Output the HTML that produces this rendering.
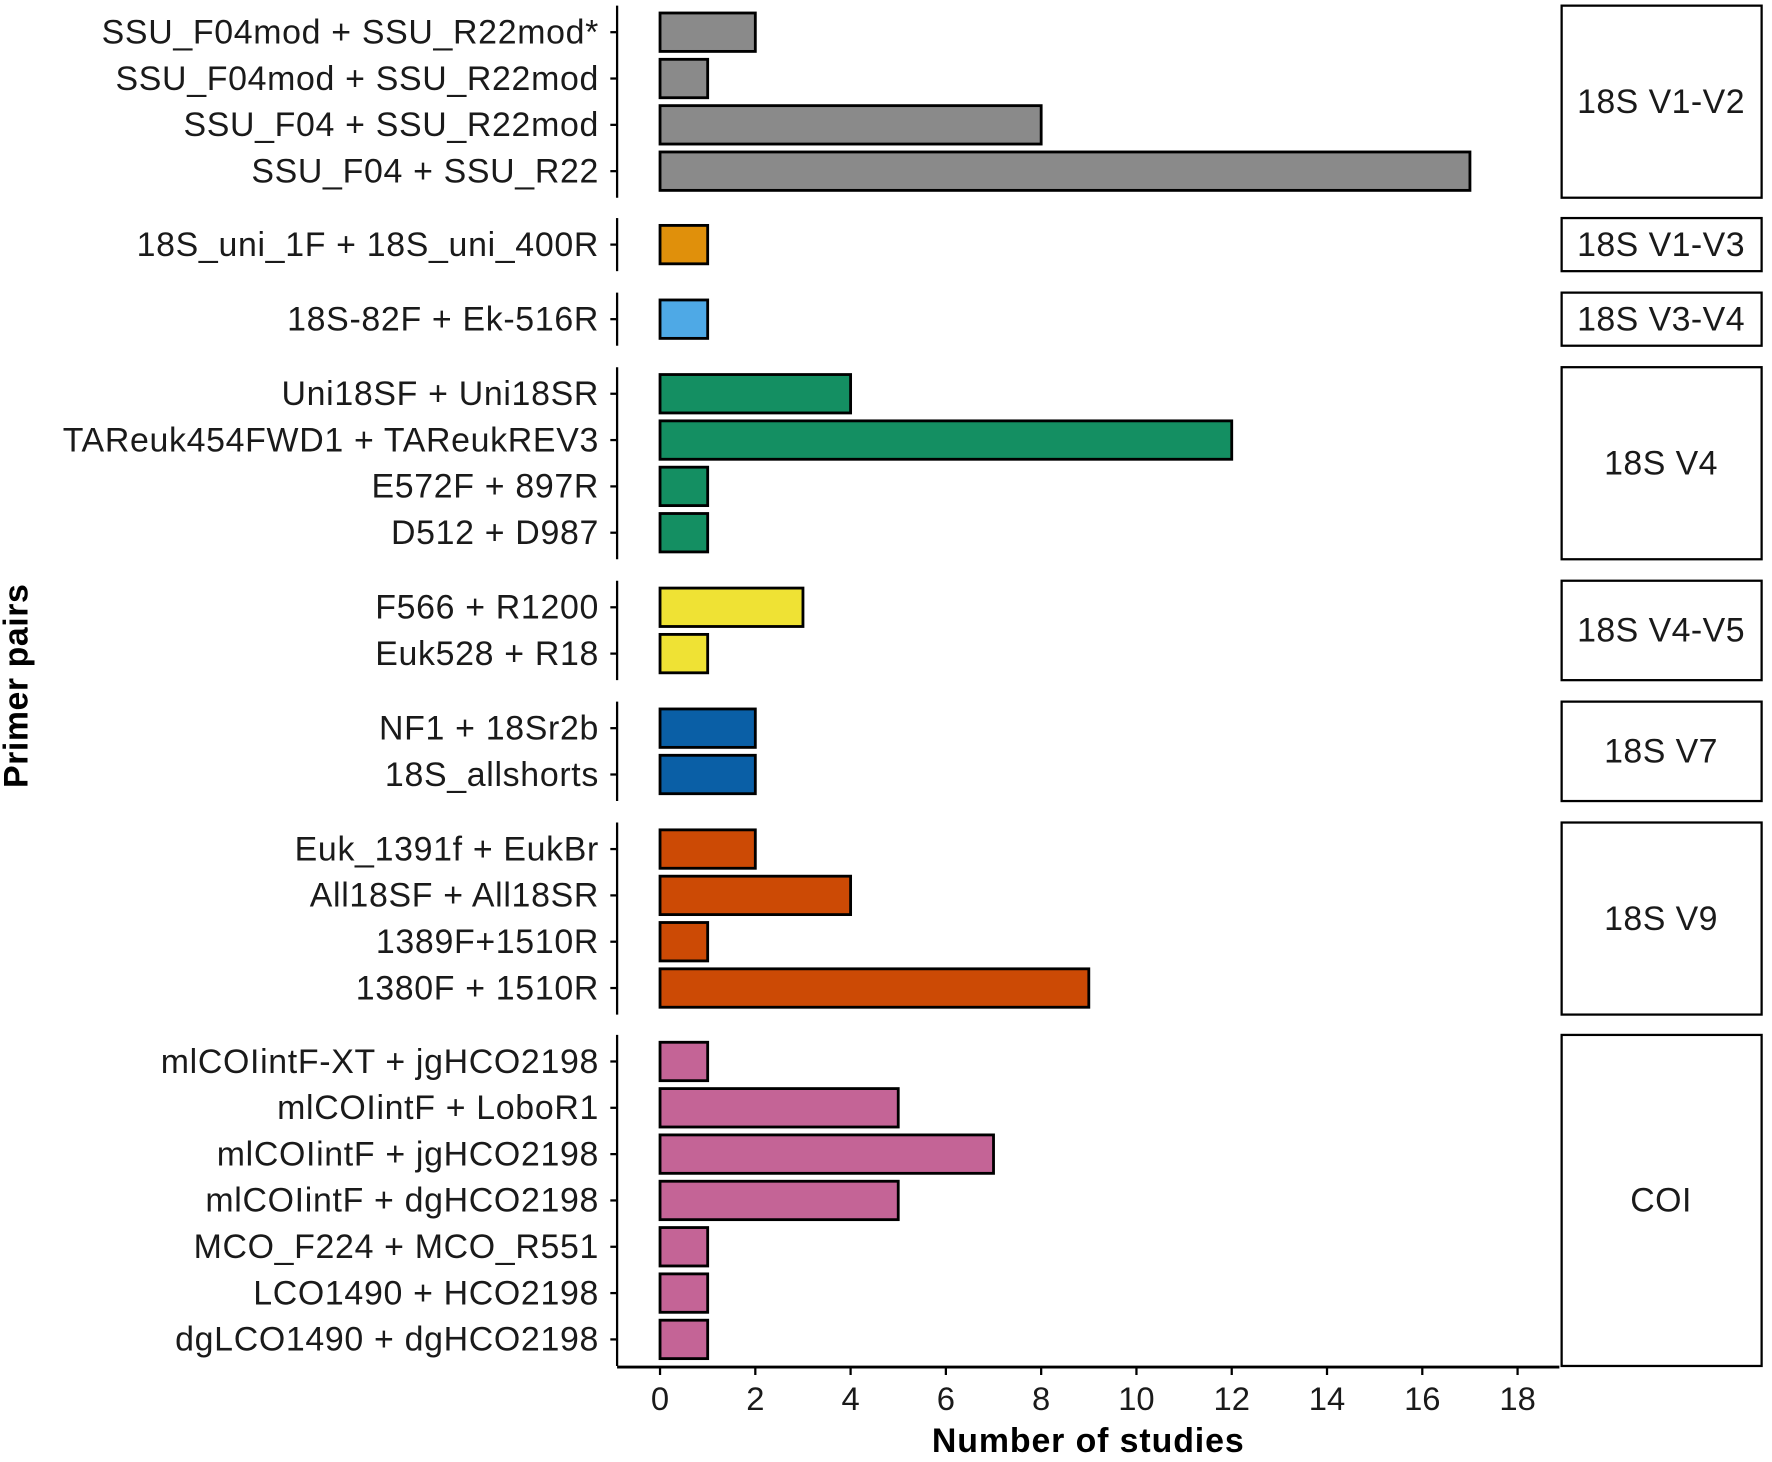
<!DOCTYPE html>
<html><head><meta charset="utf-8"><style>
html,body{margin:0;padding:0;background:#fff}
svg{display:block;font-family:"Liberation Sans",Arial,sans-serif}
</style></head><body>
<svg id="chart" width="1772" height="1462" viewBox="0 0 1568 1294" xmlns="http://www.w3.org/2000/svg"></svg>
<script>
const groups = ["18S V1-V2","18S V1-V3","18S V3-V4","18S V4","18S V4-V5","18S V7","18S V9","COI"];
const groupColors = ["#8a8a8a","#e0900b","#4ea9e6","#148f62","#efe234","#0a5fa6","#cc4a05","#c46496"];
const panelTops = [5,193,259,325,514,621,728,916];
const labels = [
 ["SSU_F04mod + SSU_R22mod*","SSU_F04mod + SSU_R22mod","SSU_F04 + SSU_R22mod","SSU_F04 + SSU_R22"],
 ["18S_uni_1F + 18S_uni_400R"],
 ["18S-82F + Ek-516R"],
 ["Uni18SF + Uni18SR","TAReuk454FWD1 + TAReukREV3","E572F + 897R","D512 + D987"],
 ["F566 + R1200","Euk528 + R18"],
 ["NF1 + 18Sr2b","18S_allshorts"],
 ["Euk_1391f + EukBr","All18SF + All18SR","1389F+1510R","1380F + 1510R"],
 ["mlCOIintF-XT + jgHCO2198","mlCOIintF + LoboR1","mlCOIintF + jgHCO2198","mlCOIintF + dgHCO2198","MCO_F224 + MCO_R551","LCO1490 + HCO2198","dgLCO1490 + dgHCO2198"]
];
const values = [
 [2,1,8,17],[1],[1],[4,12,1,1],[3,1],[2,2],[2,4,1,9],[1,5,7,5,1,1,1]
];
const xTicks = [0,2,4,6,8,10,12,14,16,18];

const svg = document.getElementById('chart');
const NS = "http://www.w3.org/2000/svg";
const x = v => 584 + v * (1343 - 584) / 18;
const ROW = 41, PAD = 3, BARH = 34;
function mk(tag, attrs, parent){ const e=document.createElementNS(NS,tag); for(const k in attrs) e.setAttribute(k,attrs[k]); (parent||svg).appendChild(e); return e; }

groups.forEach((g, gi) => {
  const top = panelTops[gi];
  const n = labels[gi].length;
  const bottom = top + PAD*2 + ROW*n;
  const ax = mk('line',{x1:546,x2:546,y1:top,y2:bottom,stroke:'#000','stroke-width':2});
  
  
  labels[gi].forEach((lab, i) => {
    const cy = top + PAD + ROW*(i+0.5);
    const t = mk('line',{x1:540,x2:546,y1:cy,y2:cy,stroke:'#000','stroke-width':2});
    
    
    const tx = mk('text',{x:530,y:cy+10,'text-anchor':'end','font-size':30,'letter-spacing':0.6,fill:'#1a1a1a'});
    tx.textContent = lab;
    
    
    const v = values[gi][i];
    const r = mk('rect',{x:x(0),y:cy-BARH/2,width:x(v)-x(0),height:BARH,fill:groupColors[gi],stroke:'#000','stroke-width':2.5});
    
    
  });
  const s = mk('rect',{x:1382,y:top,width:177,height:bottom-top,fill:'#fff',stroke:'#000','stroke-width':2});
  
  
  const st = mk('text',{x:1470,y:(top+bottom)/2+10,'text-anchor':'middle','font-size':30,'letter-spacing':0.4,fill:'#1a1a1a'});
  st.textContent = g;
  
  
});

const xa = mk('line',{x1:546,x2:1380,y1:1210,y2:1210,stroke:'#000','stroke-width':2.5});


xTicks.forEach(v => {
  const t = mk('line',{x1:x(v),x2:x(v),y1:1210,y2:1217,stroke:'#000','stroke-width':2});
  
  
  const tx = mk('text',{x:x(v),y:1248,'text-anchor':'middle','font-size':29,fill:'#1a1a1a'});
  tx.textContent = v;
  
  
});
const xt = mk('text',{x:963,y:1285,'text-anchor':'middle','font-size':30,'letter-spacing':0.8,'font-weight':'bold',fill:'#000'});
xt.textContent = 'Number of studies';


const yt = mk('text',{x:0,y:0,'text-anchor':'middle','font-size':30,'letter-spacing':0.5,'font-weight':'bold',fill:'#000',transform:'translate(24,607) rotate(-90)'});
yt.textContent = 'Primer pairs';


</script>
</body></html>
